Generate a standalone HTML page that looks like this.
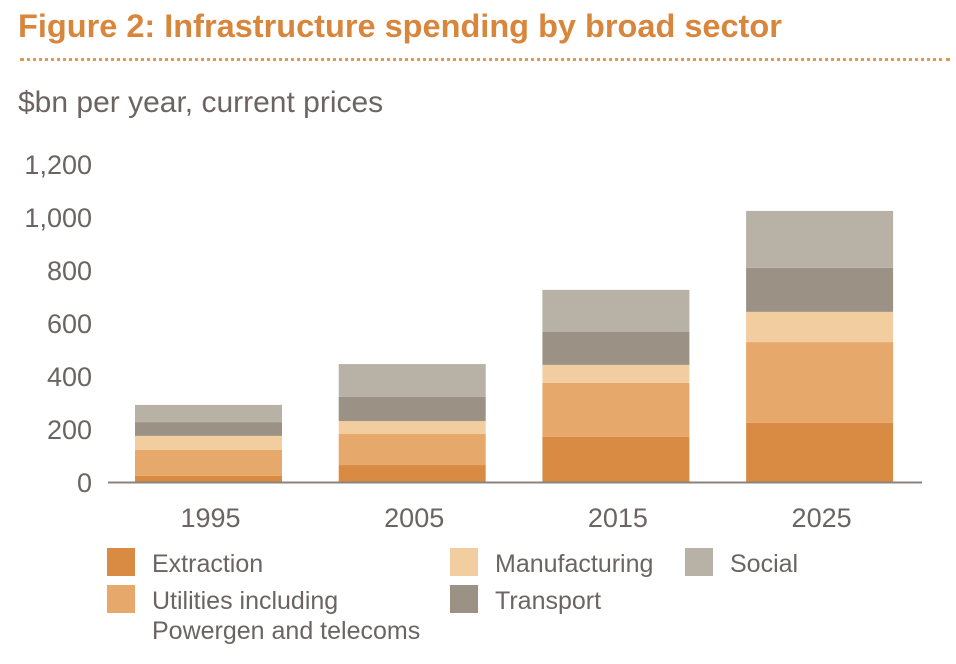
<!DOCTYPE html>
<html><head><meta charset="utf-8">
<style>
body{margin:0;width:956px;height:664px;background:#fff;font-family:"Liberation Sans",Arial,sans-serif;overflow:hidden;position:relative}
.t{position:absolute;white-space:nowrap}
</style></head>
<body>
<div class="t" style="left:18px;top:8px;font-size:32.5px;font-weight:bold;color:#d9863d">Figure 2: Infrastructure spending by broad sector</div>
<div style="position:absolute;left:20px;top:58px;width:930px;border-top:3px dotted #e0994f"></div>
<div class="t" style="left:18px;top:86px;font-size:30px;color:#6b6462">$bn per year, current prices</div>
<svg id="chart" width="956" height="664" style="position:absolute;left:0;top:0"></svg>
<script>
const categories=["1995","2005","2015","2025"];
const seriesNames=["Extraction","Utilities including Powergen and telecoms","Manufacturing","Transport","Social"];
const extraction=[23,64,170,223];
const utilities=[98,117,204,305];
const manufacturing=[53,49,68,114];
const transport=[52,91,124,166];
const social=[65,124,159,215];
const yTicks=[0,200,400,600,800,1000,1200];
const yTickLabels=["0","200","400","600","800","1,000","1,200"];
const colors=["#d98b43","#e6a96b","#f2cd9f","#9b9285","#b8b1a6"];
const series=[extraction,utilities,manufacturing,transport,social];
const NS="http://www.w3.org/2000/svg";
const svg=document.getElementById('chart');
const y=v=>482-v*0.265;
const xLeft=i=>135+i*203.7;
const bw=147;
function mk(tag,attrs){const e=document.createElementNS(NS,tag);for(const k in attrs)e.setAttribute(k,attrs[k]);svg.appendChild(e);return e;}
yTicks.forEach((t,i)=>{
  const e=mk('text',{x:92,y:y(t)+10,'text-anchor':'end','font-size':27,fill:'#6b6462','font-family':'Liberation Sans, sans-serif'});
  e.textContent=yTickLabels[i];
  
  
});
categories.forEach((c,i)=>{
  let base=0;
  series.forEach((s,j)=>{
    const r=mk('rect',{x:xLeft(i),y:y(base+s[i]),width:bw,height:y(base)-y(base+s[i]),fill:colors[j]});
    
    
    base+=s[i];
  });
  const e=mk('text',{x:xLeft(i)+bw/2+2,y:527,'text-anchor':'middle','font-size':27,fill:'#6b6462','font-family':'Liberation Sans, sans-serif'});
  e.textContent=c;
  
  
});
const ax=mk('line',{x1:108,x2:922,y1:482.5,y2:482.5,stroke:'#8a837c','stroke-width':2});


const legend=[[0,107,548,["Extraction"]],[1,107,585,["Utilities including","Powergen and telecoms"]],[2,450,548,["Manufacturing"]],[3,450,585,["Transport"]],[4,685,548,["Social"]]];
legend.forEach(([j,x,yy,lines])=>{
  const r=mk('rect',{x:x,y:yy,width:28,height:28,fill:colors[j]});
  
  
  lines.forEach((l,k)=>{
    const e=mk('text',{x:x+45,y:yy+24+k*30,'font-size':25,fill:'#6b6462','font-family':'Liberation Sans, sans-serif'});
    e.textContent=l;
    
    
  });
});
</script>
</body></html>
